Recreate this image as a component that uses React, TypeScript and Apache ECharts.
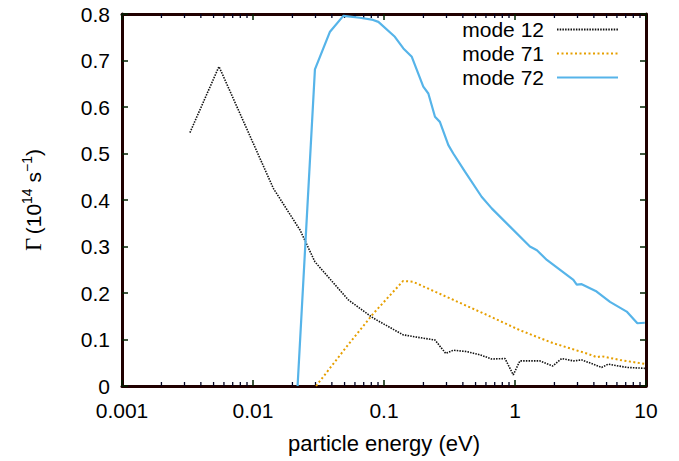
import React, { useEffect, useRef } from "react";
import * as echarts from "echarts";

const mode12X = [0.0033, 0.0055, 0.0143, 0.0229, 0.0297, 0.0535, 0.0828, 0.14, 0.188, 0.245, 0.296, 0.338, 0.428, 0.541, 0.664, 0.839, 0.97, 1.09, 1.55, 1.94, 2.27, 2.79, 3.23, 3.96, 4.59, 5.15, 7.12, 9.8];
const mode12Y = [0.545, 0.687, 0.425, 0.335, 0.267, 0.185, 0.146, 0.110, 0.104, 0.099, 0.070, 0.077, 0.074, 0.067, 0.058, 0.059, 0.024, 0.054, 0.054, 0.043, 0.059, 0.054, 0.056, 0.047, 0.040, 0.047, 0.040, 0.038];

const mode71X = [0.0303, 0.052, 0.083, 0.14, 0.167, 0.31, 0.608, 1.09, 1.96, 3.53, 4.2, 4.59, 6.34, 10];
const mode71Y = [0, 0.085, 0.156, 0.226, 0.224, 0.190, 0.153, 0.120, 0.092, 0.070, 0.062, 0.064, 0.056, 0.047];

const mode72X = [0.0219, 0.0297, 0.0387, 0.0489, 0.0656, 0.0805, 0.0906, 0.121, 0.1406, 0.163, 0.1995, 0.218, 0.245, 0.267, 0.31, 0.338, 0.415, 0.556, 0.664, 1.30, 1.47, 1.75, 2.79, 2.96, 3.23, 4.2, 5.31, 7.12, 8.59, 9.8];
const mode72Y = [0, 0.681, 0.762, 0.796, 0.792, 0.788, 0.783, 0.751, 0.726, 0.708, 0.644, 0.629, 0.579, 0.568, 0.518, 0.500, 0.461, 0.407, 0.382, 0.300, 0.292, 0.271, 0.228, 0.218, 0.219, 0.203, 0.181, 0.160, 0.135, 0.136];

const seriesNames = ["mode 12", "mode 71", "mode 72"];
const decades = [0.001, 0.01, 0.1, 1];
const minorMultipliers = [2, 3, 4, 5, 6, 7, 8, 9];
const yTitle = "{g|Γ} {n|(10}{s|14}{n| s}{s|−1}{n|)}";

const FONT = "Liberation Sans";
const INK = "#000";
const LINE_COLOR = "#200000";
const TICK_COLOR = "#002000";
const MINOR_COLOR = "#000020";

function zip(xs: number[], ys: number[]) {
  return xs.map((x, i) => [x, ys[i]]);
}

const mkLine = () => ({ show: true, onZero: false, lineStyle: { color: LINE_COLOR, width: 3 } });
const mkTick = () => ({ show: true, inside: true, length: 6, lineStyle: { color: TICK_COLOR, width: 1.5 } });

export default function App() {
  const ref = useRef<HTMLDivElement>(null);
  useEffect(() => {
    if (!ref.current) return;
    const chart = echarts.init(ref.current, undefined, { renderer: "svg" });
    const minorTicks: number[][] = [];
    decades.forEach((d) => minorMultipliers.forEach((m) => minorTicks.push([+(d * m).toPrecision(2), 0])));

    chart.setOption({
      animation: false,
      grid: { left: 122, right: 33, top: 14, bottom: 75 },
      legend: {
        data: seriesNames,
        orient: "vertical",
        right: 60,
        top: 19,
        padding: 0,
        align: "right",
        itemWidth: 61,
        itemHeight: 12,
        itemGap: 3,
        itemStyle: { opacity: 0 },
        formatter: (name: string) => `{t|${name}}`,
        textStyle: {
          fontFamily: FONT,
          fontSize: 21,
          color: INK,
          rich: { t: { fontFamily: FONT, fontSize: 21, color: INK, padding: [0, 8, 0, 0] } },
        },
      },
      graphic: [
        {
          type: "text",
          x: 33,
          y: 200,
          rotation: Math.PI / 2,
          silent: true,
          style: {
            text: yTitle,
            align: "center",
            verticalAlign: "middle",
            fill: INK,
            rich: {
              g: { fontFamily: "Liberation Serif", fontSize: 23, fill: INK, color: INK, lineHeight: 26 },
              n: { fontFamily: FONT, fontSize: 21, fill: INK, color: INK, lineHeight: 26 },
              s: { fontFamily: FONT, fontSize: 14, fill: INK, color: INK, verticalAlign: "top", lineHeight: 14 },
            },
          },
        },
      ],
      xAxis: [
        {
          type: "log",
          logBase: 10,
          min: 0.001,
          max: 10,
          position: "bottom",
          axisLine: mkLine(),
          axisTick: mkTick(),
          splitLine: { show: false },
          axisLabel: {
            fontFamily: FONT,
            fontSize: 21,
            color: INK,
            margin: 14,
            formatter: (v: number) => String(+v.toPrecision(1)),
          },
          name: "particle energy (eV)",
          nameLocation: "middle",
          nameGap: 46,
          nameTextStyle: { fontFamily: FONT, fontSize: 22, color: INK },
        },
        {
          type: "log",
          logBase: 10,
          min: 0.001,
          max: 10,
          position: "top",
          axisLine: mkLine(),
          axisTick: mkTick(),
          splitLine: { show: false },
          axisLabel: { show: false },
        },
      ],
      yAxis: [
        {
          type: "value",
          min: 0,
          max: 0.8,
          interval: 0.1,
          position: "left",
          axisLine: mkLine(),
          axisTick: mkTick(),
          splitLine: { show: false },
          axisLabel: {
            fontFamily: FONT,
            fontSize: 21,
            color: INK,
            margin: 12,
            formatter: (v: number) => String(+v.toFixed(1)),
          },
        },
        {
          type: "value",
          min: 0,
          max: 0.8,
          interval: 0.1,
          position: "right",
          axisLine: mkLine(),
          axisTick: mkTick(),
          splitLine: { show: false },
          axisLabel: { show: false },
        },
      ],
      series: [
        {
          name: "mode 12",
          type: "line",
          data: zip(mode12X, mode12Y),
          symbol: "none",
          lineStyle: { color: "#111", width: 1.6, type: [1.5, 1.2] },
          itemStyle: { color: "#111" },
        },
        {
          name: "mode 71",
          type: "line",
          data: zip(mode71X, mode71Y),
          symbol: "none",
          lineStyle: { color: "#E69F00", width: 2, type: [2, 2.5] },
          itemStyle: { color: "#E69F00" },
        },
        {
          name: "mode 72",
          type: "line",
          data: zip(mode72X, mode72Y),
          symbol: "none",
          lineStyle: { color: "#56B4E9", width: 2.2 },
          itemStyle: { color: "#56B4E9" },
        },
        {
          name: "minorTicks",
          type: "custom",
          silent: true,
          data: minorTicks,
          renderItem: (_params: any, api: any) => {
            const x = api.value(0);
            const b = api.coord([x, 0]);
            const t = api.coord([x, 0.8]);
            const style = { stroke: MINOR_COLOR, lineWidth: 1.3 };
            return {
              type: "group",
              children: [
                { type: "line", shape: { x1: b[0], y1: b[1], x2: b[0], y2: b[1] - 4 }, style },
                { type: "line", shape: { x1: t[0], y1: t[1], x2: t[0], y2: t[1] + 4 }, style },
              ],
            };
          },
        },
      ],
    });
    return () => chart.dispose();
  }, []);
  return <div ref={ref} style={{ width: 679, height: 461, position: "absolute", left: 0, top: 0 }} />;
}
